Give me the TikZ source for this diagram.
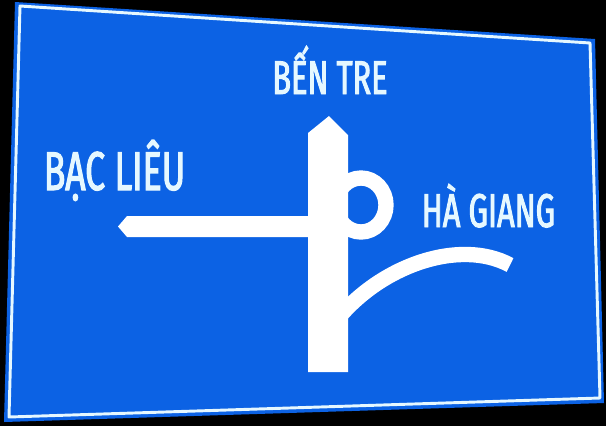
\documentclass[tikz,border=0pt]{standalone}
\usepackage{fontspec}
\newfontfamily\signfont[FakeStretch=0.65,FakeBold=2]{Fira Sans}
\usetikzlibrary{calc}
\definecolor{signblue}{RGB}{12,98,228}
\definecolor{signwhite}{RGB}{230,248,255}
\tikzset{
  place/.style={text=signwhite, inner sep=0pt, anchor=base, font=\signfont\fontsize{35.5}{36}\selectfont},
  road/.style={fill=white, draw=none},
  turnroad/.style={draw=white, line width=11.5pt},
}

\begin{document}
\begin{tikzpicture}[x=0.75pt,y=-0.75pt]
  \fill[black] (0,0) rectangle (606,426);
  \useasboundingbox (0,0) rectangle (606,426);
  % sign plate
  \fill[signblue] (15,2) -- (595,39) -- (604,403) -- (4,422) -- cycle;
  \draw[signwhite, line width=2.2pt, line join=round] (20,6) -- (590,43) -- (600,398) -- (9,417) -- cycle;

  % loop and turn behind the main road
  \draw[turnroad] (361,205) ellipse (25 and 27);
  \draw[turnroad] (335,322) .. controls (380,265) and (460,238) .. (510,265);
  % left arm
  \fill[road] (312,216) -- (127,216) -- (118,226.5) -- (127,237) -- (312,237) -- cycle;
  % main road, arrow up
  \fill[road] (308,372) -- (308,133) -- (329,116) -- (348,135) -- (348,372) -- cycle;

  \node[place] (bentre) at (330,94) {BẾN TRE};
  \node[place, font=\signfont\fontsize{41}{42}\selectfont] (baclieu) at (114.5,190) {BẠC LIÊU};
  \node[place] (hagiang) at (488.5,227) {HÀ GIANG};
\end{tikzpicture}
\end{document}
